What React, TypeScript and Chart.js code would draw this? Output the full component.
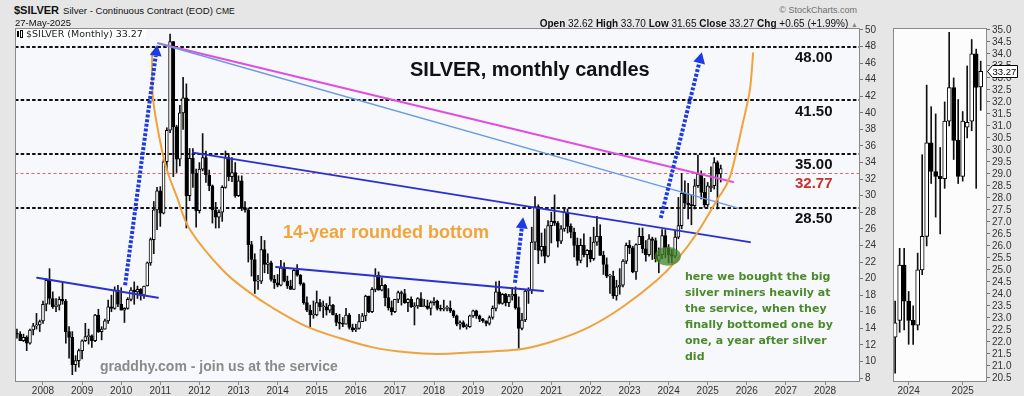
import React, { useEffect, useRef } from 'react';
import { Chart, registerables } from 'chart.js';

Chart.register(...registerables);

const SANS = '"Liberation Sans", Arial, Helvetica, sans-serif';
const VERDANA = '"DejaVu Sans", Verdana, sans-serif';

// ---------- monthly candles, first candle = May 2007 ----------
const firstYear = 2007;
const firstMonth = 4; // 0-based month index of the first candle

const opens = [
  13.4, 13.3, 12.5, 12.9, 12.2, 13.8, 14.3, 14.4,
  14.9, 16.9, 19.8, 17.6, 16.6, 16.8, 17.5, 17.3, 13.6, 12.9, 9.6, 10.1,
  11.3, 12.5, 13.0, 13.1, 12.5, 15.6, 13.6, 13.9, 14.9, 16.6, 16.4, 18.6,
  16.9, 16.2, 16.4, 17.5, 18.6, 18.4, 18.7, 18.0, 19.1, 21.9, 24.7, 28.3,
  30.6, 27.9, 34.1, 37.9, 48.6, 38.3, 34.4, 40.0, 41.8, 30.0, 34.5, 32.7,
  28.2, 33.2, 34.6, 32.5, 31.2, 28.3, 27.4, 28.0, 31.0, 34.6, 32.3, 32.8,
  30.0, 31.8, 28.5, 28.3, 24.1, 22.3, 19.7, 19.7, 23.5, 21.7, 21.9, 19.9,
  19.5, 19.2, 21.3, 19.7, 19.1, 18.7, 21.0, 20.4, 19.4, 17.1, 16.2, 15.6,
  15.6, 17.1, 16.6, 16.6, 16.2, 16.8, 15.6, 14.7, 14.6, 14.5, 15.6, 14.1,
  13.8, 14.0, 14.8, 15.5, 17.9, 16.0, 18.7, 20.4, 18.6, 19.2, 17.7, 16.5,
  16.0, 17.5, 18.3, 18.2, 17.1, 17.5, 16.6, 16.7, 17.6, 16.6, 16.7, 16.4,
  17.1, 17.3, 16.4, 16.3, 16.4, 16.4, 16.1, 15.5, 14.5, 14.7, 14.2, 14.2,
  15.5, 16.1, 15.5, 15.1, 14.9, 14.6, 15.3, 16.4, 18.4, 17.0, 18.1, 17.1,
  17.9, 18.1, 16.5, 14.0, 15.0, 18.5, 18.6, 24.4, 28.7, 23.4, 23.9, 22.7,
  26.4, 26.9, 26.7, 24.5, 26.0, 28.0, 26.3, 25.6, 24.0, 22.2, 24.0, 22.9,
  23.4, 22.4, 24.4, 25.1, 22.8, 21.7, 20.3, 20.3, 17.9, 19.0, 19.2, 22.1,
  24.0, 23.7, 20.8, 24.1, 25.1, 23.6, 22.9, 24.8, 24.6, 22.2, 22.9, 25.2,
  23.7, 22.9, 22.7, 25.0, 26.4, 30.3, 29.1, 28.9, 28.8, 31.2, 32.6, 30.4,
  28.9, 30.95, 31.2, 34.0, 32.62,
];

const highs = [
  13.9, 13.6, 13.3, 13.1, 13.9, 14.6, 15.8, 15.0,
  17.3, 20.0, 21.2, 18.4, 17.6, 17.8, 19.5, 17.5, 14.2, 13.6, 10.7, 11.5,
  12.6, 14.6, 13.9, 13.2, 15.7, 16.3, 14.2, 15.1, 17.4, 18.0, 19.0, 19.2,
  18.9, 16.5, 17.7, 18.9, 19.6, 19.1, 18.8, 19.1, 22.0, 24.9, 29.3, 31.0,
  31.1, 34.4, 38.2, 49.5, 48.6, 38.5, 40.9, 44.3, 43.5, 35.7, 35.7, 33.2,
  34.0, 37.5, 35.4, 33.1, 31.3, 29.2, 28.3, 31.2, 35.4, 34.9, 34.6, 34.0,
  32.4, 32.4, 29.3, 28.5, 24.5, 23.0, 20.4, 25.1, 24.6, 23.0, 22.1, 20.4,
  20.5, 22.2, 21.9, 20.3, 19.8, 21.2, 21.7, 20.5, 19.5, 17.8, 16.8, 17.3,
  18.5, 17.5, 17.3, 17.0, 17.8, 16.9, 15.8, 15.7, 15.3, 16.4, 15.8, 14.5,
  14.5, 15.7, 15.8, 18.0, 17.9, 18.9, 21.2, 20.8, 20.1, 19.3, 18.8, 17.3,
  17.5, 18.5, 18.5, 18.7, 17.6, 17.8, 17.1, 17.7, 18.3, 17.5, 17.4, 17.3,
  17.7, 17.4, 16.8, 17.4, 16.7, 17.3, 16.2, 15.6, 14.9, 14.9, 14.5, 15.6,
  16.2, 16.2, 15.6, 15.2, 14.9, 15.5, 16.7, 19.6, 19.7, 18.2, 18.2, 18.1,
  18.9, 19.0, 17.8, 15.8, 18.6, 18.9, 26.2, 29.9, 28.9, 25.5, 26.0, 27.0,
  28.0, 30.1, 26.9, 26.4, 28.4, 28.4, 26.6, 26.1, 24.9, 24.8, 25.4, 23.5,
  25.0, 26.2, 27.5, 26.5, 23.3, 22.5, 20.5, 20.9, 19.8, 21.2, 22.3, 24.3,
  24.6, 23.9, 24.2, 26.1, 26.1, 24.6, 25.3, 25.0, 24.9, 23.7, 25.9, 25.9,
  24.1, 23.5, 25.7, 29.8, 32.7, 31.8, 31.5, 30.1, 32.0, 34.9, 33.0, 32.1,
  31.6, 33.5, 34.6, 34.2, 33.70,
];

const lows = [
  12.8, 12.5, 12.4, 11.3, 12.1, 13.2, 13.9, 13.6,
  14.6, 16.1, 16.9, 16.4, 16.0, 16.2, 16.9, 12.2, 10.4, 8.4, 8.8, 9.3,
  10.3, 12.4, 12.1, 11.7, 12.4, 13.5, 12.6, 13.9, 14.6, 16.0, 16.3, 16.6,
  16.2, 14.7, 16.3, 17.3, 16.9, 17.6, 17.4, 17.6, 19.1, 21.6, 23.0, 25.9,
  26.3, 27.8, 33.1, 37.6, 32.3, 32.8, 33.6, 38.0, 26.1, 29.4, 31.0, 26.2,
  27.9, 33.0, 31.6, 30.6, 26.7, 26.1, 26.1, 26.9, 30.9, 31.8, 31.7, 29.8,
  29.9, 28.2, 28.0, 22.0, 20.3, 18.2, 18.7, 19.4, 20.7, 20.6, 19.7, 18.8,
  19.0, 19.1, 19.6, 18.8, 18.7, 18.7, 20.3, 19.2, 16.9, 16.0, 14.2, 15.2,
  15.5, 16.1, 15.3, 15.6, 15.9, 15.6, 14.3, 13.9, 14.2, 14.5, 13.9, 13.6,
  13.6, 13.9, 14.8, 14.9, 15.9, 15.9, 18.4, 18.6, 18.5, 16.7, 16.2, 15.6,
  15.9, 17.1, 16.8, 17.0, 16.0, 16.5, 14.4, 16.4, 16.6, 16.6, 16.3, 15.6,
  16.8, 16.2, 16.1, 16.1, 16.1, 15.9, 15.3, 14.3, 13.9, 14.1, 13.9, 14.1,
  15.3, 15.2, 14.8, 14.7, 14.3, 14.4, 15.1, 16.1, 16.9, 16.9, 16.7, 16.6,
  17.4, 16.3, 11.6, 13.8, 14.8, 17.0, 18.2, 23.5, 21.8, 22.7, 21.9, 22.6,
  24.3, 26.4, 23.8, 24.2, 25.7, 25.5, 24.9, 22.6, 21.6, 21.9, 22.6, 21.4,
  22.0, 22.2, 24.0, 22.8, 20.5, 20.1, 18.2, 17.6, 17.4, 18.1, 19.0, 21.8,
  23.0, 20.7, 19.9, 24.1, 23.1, 22.1, 22.7, 22.3, 22.0, 20.7, 22.4, 22.5,
  21.9, 21.9, 22.5, 24.8, 26.0, 28.6, 27.2, 26.5, 28.4, 31.0, 29.6, 28.6,
  28.7, 30.5, 30.8, 28.4, 31.65,
];

const closes = [
  13.3, 12.5, 12.9, 12.2, 13.8, 14.3, 14.4, 14.8,
  16.9, 19.8, 17.6, 16.6, 16.8, 17.5, 17.3, 13.6, 12.9, 9.6, 10.1, 11.3,
  12.5, 13.0, 13.1, 12.5, 15.6, 13.6, 13.9, 14.9, 16.6, 16.4, 18.6, 16.9,
  16.2, 16.4, 17.5, 18.6, 18.4, 18.7, 18.0, 19.1, 21.9, 24.7, 28.3, 30.6,
  27.9, 34.1, 37.9, 48.6, 38.3, 34.4, 40.0, 41.8, 30.0, 34.5, 32.7, 28.2,
  33.2, 34.6, 32.5, 31.2, 28.3, 27.4, 28.0, 31.0, 34.6, 32.3, 32.8, 30.0,
  31.8, 28.5, 28.3, 24.1, 22.3, 19.7, 19.7, 23.5, 21.7, 21.9, 19.9, 19.5,
  19.2, 21.3, 19.7, 19.1, 18.7, 21.0, 20.4, 19.4, 17.1, 16.2, 15.6, 15.6,
  17.1, 16.6, 16.6, 16.2, 16.8, 15.6, 14.7, 14.6, 14.5, 15.6, 14.1, 13.8,
  14.0, 14.8, 15.5, 17.9, 16.0, 18.7, 20.4, 18.6, 19.2, 17.7, 16.5, 16.0,
  17.5, 18.3, 18.2, 17.1, 17.5, 16.6, 16.7, 17.6, 16.6, 16.7, 16.4, 17.1,
  17.3, 16.4, 16.3, 16.4, 16.4, 16.1, 15.5, 14.5, 14.7, 14.2, 14.2, 15.5,
  16.1, 15.5, 15.1, 14.9, 14.6, 15.3, 16.4, 18.4, 17.0, 18.1, 17.1, 17.9,
  18.1, 16.5, 14.0, 15.0, 18.5, 18.6, 24.4, 28.7, 23.4, 23.9, 22.7, 26.4,
  26.9, 26.7, 24.5, 26.0, 28.0, 26.3, 25.6, 24.0, 22.2, 24.0, 22.9, 23.4,
  22.4, 24.4, 25.1, 22.8, 21.7, 20.3, 20.3, 17.9, 19.0, 19.2, 22.1, 24.0,
  23.7, 20.8, 24.1, 25.1, 23.6, 22.9, 24.8, 24.6, 22.4, 22.8, 25.2, 23.7,
  22.9, 22.7, 25.0, 26.4, 30.3, 29.1, 28.9, 28.8, 31.2, 32.6, 30.4, 28.9,
  31.2, 31.15, 34.0, 32.6, 33.27,
];

// ---------- axes ----------
const mainXRange = [2007.284, 2028.895];
const mainYRange = [7.52, 50.24];
const sideXRange = [2023.71, 2025.45];
const sideYRange = [20.33, 35.08];
const sideStart = 2023.7;

// ---------- annotations (in data units: decimal year, price) ----------
const levelValues = [48, 41.5, 35, 28.5];
const levelLabels = ['48.00', '41.50', '35.00', '28.50'];
const markValue = 32.77;
const markLabel = '32.77';
const lastClose = 33.27;

const trendStartT = [2010.94, 2010.94, 2011.84, 2007.85, 2013.96];
const trendStartV = [48.4, 48.4, 35.2, 20.1, 21.4];
const trendEndT = [2025.65, 2025.78, 2026.08, 2010.94, 2020.79];
const trendEndV = [31.65, 28.5, 24.4, 17.7, 18.5];
const trendColors = ['#df4fdf', '#6b9be2', '#2b30d2', '#2b30d2', '#2b30d2'];
const trendWidths = [2, 1.5, 2, 2, 2];

const arcT = [2010.79, 2010.81, 2010.99, 2011.17, 2011.43, 2011.76, 2012.6, 2013.29, 2013.88, 2014.75, 2015.6, 2016.44, 2017.31, 2018.08, 2019.0, 2020.25, 2021.15, 2021.99, 2022.83, 2023.7, 2024.2, 2024.73, 2025.24, 2025.57, 2025.9, 2026.08, 2026.16];
const arcV = [47.3, 41.9, 36.7, 33.1, 29.8, 25.9, 21.0, 18.3, 16.45, 14.2, 12.8, 11.7, 11.1, 10.9, 11.1, 11.5, 12.6, 14.2, 16.6, 19.8, 22.2, 25.5, 29.5, 32.3, 38.8, 42.8, 47.2];

const arrowStartT = [2010.1, 2020.07, 2023.8];
const arrowStartV = [19.2, 19.5, 27.3];
const arrowEndT = [2010.92, 2020.28, 2024.85];
const arrowEndV = [48.2, 27.4, 47.3];

const blobT = 2023.98;
const blobV = 22.7;

// ---------- helpers ----------
const times = opens.map((_, i) => firstYear + (firstMonth + i) / 12);
const allIdx = opens.map((_, i) => i);
const sideIdx = allIdx.filter((i) => times[i] >= sideStart);

function candleDatasets(ids: number[], bodyWidth: number): any[] {
  return [
    {
      type: 'bar',
      data: ids.map((i) => ({ x: times[i], y: [opens[i], closes[i]] })),
      backgroundColor: ids.map((i) => (closes[i] >= opens[i] ? '#ffffff' : '#000000')),
      borderColor: '#000000',
      borderWidth: 1,
      borderSkipped: false,
      barThickness: bodyWidth,
      minBarLength: 1,
      grouped: false,
      order: 0,
    },
    {
      type: 'bar',
      data: ids.map((i) => ({ x: times[i], y: [lows[i], highs[i]] })),
      backgroundColor: '#111111',
      borderWidth: 0,
      barThickness: 1,
      grouped: false,
      order: 1,
    },
  ];
}

const tickFont = { family: SANS, size: 10 };

function xAxis(range: number[], height: number) {
  return {
    type: 'linear',
    min: range[0],
    max: range[1],
    offset: false,
    ticks: {
      stepSize: 1,
      autoSkip: false,
      maxRotation: 0,
      includeBounds: false,
      padding: 0,
      color: '#333',
      font: tickFont,
      callback: (v: any) => String(v),
    },
    grid: { drawOnChartArea: false, tickLength: 3, color: '#888', offset: false },
    border: { display: false },
    afterFit: (s: any) => {
      s.height = height;
      s.paddingLeft = 0;
      s.paddingRight = 0;
    },
  };
}

function yAxis(range: number[], step: number, width: number, digits: number) {
  return {
    type: 'linear',
    position: 'right',
    min: range[0],
    max: range[1],
    beginAtZero: false,
    ticks: {
      stepSize: step,
      autoSkip: false,
      includeBounds: false,
      padding: 2,
      color: '#333',
      font: tickFont,
      callback: (v: any) => Number(v).toFixed(digits),
    },
    grid: { drawOnChartArea: false, tickLength: 3, color: '#777' },
    border: { display: false },
    afterFit: (s: any) => {
      s.width = width;
      s.paddingTop = 0;
      s.paddingBottom = 0;
    },
  };
}

function fillArea(chart: any, color: string) {
  const { ctx, chartArea: a } = chart;
  ctx.save();
  ctx.fillStyle = color;
  ctx.fillRect(a.left, a.top, a.right - a.left, a.bottom - a.top);
  ctx.restore();
}

function strokeArea(chart: any) {
  const { ctx, chartArea: a } = chart;
  ctx.save();
  ctx.strokeStyle = '#8a8a8a';
  ctx.lineWidth = 1;
  ctx.setLineDash([]);
  ctx.strokeRect(a.left + 0.5, a.top + 0.5, a.right - a.left - 1, a.bottom - a.top - 1);
  ctx.restore();
}

function clipArea(chart: any) {
  const { ctx, chartArea: a } = chart;
  ctx.beginPath();
  ctx.rect(a.left, a.top, a.right - a.left, a.bottom - a.top);
  ctx.clip();
}

const mainPlugin = {
  id: 'mainAnnotations',
  beforeDraw(chart: any) {
    fillArea(chart, '#f7f8fb');
  },
  beforeDatasetsDraw(chart: any) {
    const { ctx, chartArea: a, scales } = chart;
    const Y = (v: number) => scales.y.getPixelForValue(v);
    ctx.save();
    clipArea(chart);
    ctx.strokeStyle = '#111';
    ctx.lineWidth = 2;
    ctx.setLineDash([3.5, 2.2]);
    levelValues.forEach((v) => {
      const y = Math.round(Y(v));
      ctx.beginPath();
      ctx.moveTo(a.left, y);
      ctx.lineTo(a.right, y);
      ctx.stroke();
    });
    ctx.strokeStyle = '#e06868';
    ctx.lineWidth = 1;
    ctx.setLineDash([3, 2.5]);
    const ym = Math.round(Y(markValue)) + 0.5;
    ctx.beginPath();
    ctx.moveTo(a.left, ym);
    ctx.lineTo(a.right, ym);
    ctx.stroke();
    ctx.restore();
  },
  afterDatasetsDraw(chart: any) {
    const { ctx, scales } = chart;
    const X = (t: number) => scales.x.getPixelForValue(t);
    const Y = (v: number) => scales.y.getPixelForValue(v);
    ctx.save();
    clipArea(chart);
    ctx.setLineDash([]);
    ctx.lineCap = 'round';

    // trend lines
    trendStartT.forEach((t, k) => {
      ctx.strokeStyle = trendColors[k];
      ctx.lineWidth = trendWidths[k];
      ctx.beginPath();
      ctx.moveTo(X(t), Y(trendStartV[k]));
      ctx.lineTo(X(trendEndT[k]), Y(trendEndV[k]));
      ctx.stroke();
    });

    // rounded bottom arc (smooth curve through read points)
    const pts = arcT.map((t, k) => [X(t), Y(arcV[k])]);
    ctx.strokeStyle = '#f0a23c';
    ctx.lineWidth = 2;
    ctx.beginPath();
    ctx.moveTo(pts[0][0], pts[0][1]);
    for (let i = 0; i < pts.length - 1; i++) {
      const p0 = pts[i - 1] || pts[i];
      const p1 = pts[i];
      const p2 = pts[i + 1];
      const p3 = pts[i + 2] || p2;
      ctx.bezierCurveTo(
        p1[0] + (p2[0] - p0[0]) / 6, p1[1] + (p2[1] - p0[1]) / 6,
        p2[0] - (p3[0] - p1[0]) / 6, p2[1] - (p3[1] - p1[1]) / 6,
        p2[0], p2[1]
      );
    }
    ctx.stroke();

    // green blob
    ctx.fillStyle = 'rgba(66,132,42,0.75)';
    ctx.beginPath();
    ctx.ellipse(X(blobT), Y(blobV), 13, 9.5, 0, 0, Math.PI * 2);
    ctx.fill();

    // dotted arrows
    const blue = '#1d3be4';
    ctx.lineCap = 'butt';
    arrowStartT.forEach((t, k) => {
      const x1 = X(t), y1 = Y(arrowStartV[k]);
      const x2 = X(arrowEndT[k]), y2 = Y(arrowEndV[k]);
      const len = Math.hypot(x2 - x1, y2 - y1);
      const ux = (x2 - x1) / len, uy = (y2 - y1) / len;
      const head = 11, half = 6;
      const bx = x2 - ux * head, by = y2 - uy * head;
      ctx.strokeStyle = blue;
      ctx.lineWidth = 4;
      ctx.setLineDash([3, 1.7]);
      ctx.beginPath();
      ctx.moveTo(x1, y1);
      ctx.lineTo(bx, by);
      ctx.stroke();
      ctx.setLineDash([]);
      ctx.fillStyle = blue;
      ctx.beginPath();
      ctx.moveTo(x2, y2);
      ctx.lineTo(bx - uy * half, by + ux * half);
      ctx.lineTo(bx + uy * half, by - ux * half);
      ctx.closePath();
      ctx.fill();
    });
    ctx.restore();
  },
  afterDraw(chart: any) {
    const { ctx, chartArea: a, scales } = chart;
    const Y = (v: number) => scales.y.getPixelForValue(v);
    ctx.save();
    ctx.font = `bold 15px ${SANS}`;
    ctx.textBaseline = 'middle';
    ctx.textAlign = 'left';
    ctx.fillStyle = '#111';
    levelLabels.forEach((txt, k) => ctx.fillText(txt, a.right - 65, Y(levelValues[k]) + 11));
    ctx.fillStyle = '#c93030';
    ctx.fillText(markLabel, a.right - 65, Y(markValue) + 11);
    ctx.restore();
    strokeArea(chart);
  },
};

const sidePlugin = {
  id: 'sideAnnotations',
  beforeDraw(chart: any) {
    fillArea(chart, '#fcfcfd');
  },
  afterDraw(chart: any) {
    strokeArea(chart);
    const { ctx, chartArea: a, scales } = chart;
    const y = Math.round(scales.y.getPixelForValue(lastClose)) + 0.5;
    const x0 = a.right + 0.5;
    ctx.save();
    ctx.fillStyle = '#ffffff';
    ctx.strokeStyle = '#000';
    ctx.lineWidth = 1;
    ctx.beginPath();
    ctx.moveTo(x0, y);
    ctx.lineTo(x0 + 5, y - 6);
    ctx.lineTo(x0 + 30, y - 6);
    ctx.lineTo(x0 + 30, y + 6);
    ctx.lineTo(x0 + 5, y + 6);
    ctx.closePath();
    ctx.fill();
    ctx.stroke();
    ctx.fillStyle = '#000';
    ctx.font = `9.5px ${SANS}`;
    ctx.textBaseline = 'middle';
    ctx.textAlign = 'left';
    ctx.fillText(lastClose.toFixed(2), x0 + 5, y + 0.5);
    ctx.restore();
  },
};

function baseOptions(x: any, y: any): any {
  return {
    responsive: false,
    animation: false,
    events: [],
    devicePixelRatio: 1,
    layout: { padding: { top: 8, left: 0, right: 0, bottom: 0 } },
    plugins: { legend: { display: false }, tooltip: { enabled: false } },
    scales: { x, y },
  };
}

export default function App() {
  const mainRef = useRef<HTMLCanvasElement>(null);
  const sideRef = useRef<HTMLCanvasElement>(null);

  useEffect(() => {
    const main = new Chart(mainRef.current as HTMLCanvasElement, {
      type: 'bar',
      data: { datasets: candleDatasets(allIdx, 3) },
      options: baseOptions(xAxis(mainXRange, 14), yAxis(mainYRange, 2, 27, 0)),
      plugins: [mainPlugin],
    } as any);
    const side = new Chart(sideRef.current as HTMLCanvasElement, {
      type: 'bar',
      data: { datasets: candleDatasets(sideIdx, 4) },
      options: baseOptions(xAxis(sideXRange, 14), yAxis(sideYRange, 0.5, 37, 1)),
      plugins: [sidePlugin],
    } as any);
    return () => {
      main.destroy();
      side.destroy();
    };
  }, []);

  const abs = (s: React.CSSProperties): React.CSSProperties => ({ position: 'absolute', whiteSpace: 'nowrap', ...s });

  return (
    <div style={{ position: 'absolute', left: 0, top: 0, width: 1024, height: 396, background: '#e6e6e6', overflow: 'hidden', fontFamily: SANS, color: '#111' }}>
      <canvas ref={mainRef} width={872} height={376} style={{ position: 'absolute', left: 15, top: 20, display: 'block' }} />
      <canvas ref={sideRef} width={131} height={376} style={{ position: 'absolute', left: 893, top: 20, display: 'block' }} />

      {/* header */}
      <div style={abs({ left: 14, top: 3, fontSize: 11, lineHeight: '15px' })}>
        <span style={{ fontWeight: 700, fontSize: 11 }}>$SILVER</span>
        <span style={{ fontSize: 9.6, marginLeft: 4 }}>Silver - Continuous Contract (EOD)</span>
        <span style={{ fontSize: 8.5, marginLeft: 3 }}>CME</span>
      </div>
      <div style={abs({ left: 15, top: 17.5, fontSize: 9.5, lineHeight: 1 })}>27-May-2025</div>
      <div style={abs({ right: 167, top: 5.5, fontSize: 9, lineHeight: 1, color: '#707070' })}>© StockCharts.com</div>
      <div style={abs({ right: 166, top: 18.5, fontSize: 10, lineHeight: 1 })}>
        <b>Open</b> 32.62 <b>High</b> 33.70 <b>Low</b> 31.65 <b>Close</b> 33.27 <b>Chg</b> +0.65 (+1.99%){' '}
        <span style={{ fontSize: 7, color: '#888' }}>▲</span>
      </div>

      {/* legend inside plot */}
      <div style={abs({ left: 17, top: 28.5, fontSize: 9.5, lineHeight: '10px', fontFamily: VERDANA, color: '#222', background: '#ffffff', paddingRight: 3 })}>
        <span style={{ display: 'inline-block', width: 2, height: 6, background: '#000', marginRight: 1, verticalAlign: 'middle' }} />
        <span style={{ display: 'inline-block', width: 1, height: 6, border: '1px solid #000', background: '#fff', marginRight: 3, verticalAlign: 'middle' }} />
        $SILVER (Monthly) 33.27
      </div>

      {/* free text annotations */}
      <div style={abs({ left: 410, top: 59, fontSize: 20, lineHeight: 1, fontWeight: 700, color: '#111' })}>SILVER, monthly candles</div>
      <div style={abs({ left: 283, top: 223, fontSize: 18, lineHeight: 1, fontWeight: 700, color: '#f2a33a' })}>14-year rounded bottom</div>
      <div style={abs({ left: 100, top: 359, fontSize: 14, lineHeight: 1, fontWeight: 700, color: '#8a8a8a' })}>graddhy.com - join us at the service</div>
      <div style={abs({ left: 685, top: 269, fontSize: 11, lineHeight: '16px', fontWeight: 700, color: '#4b8a2b', fontFamily: VERDANA })}>
        here we bought the big<br />
        silver miners heavily at<br />
        the service, when they<br />
        finally bottomed one by<br />
        one, a year after silver<br />
        did
      </div>
    </div>
  );
}
